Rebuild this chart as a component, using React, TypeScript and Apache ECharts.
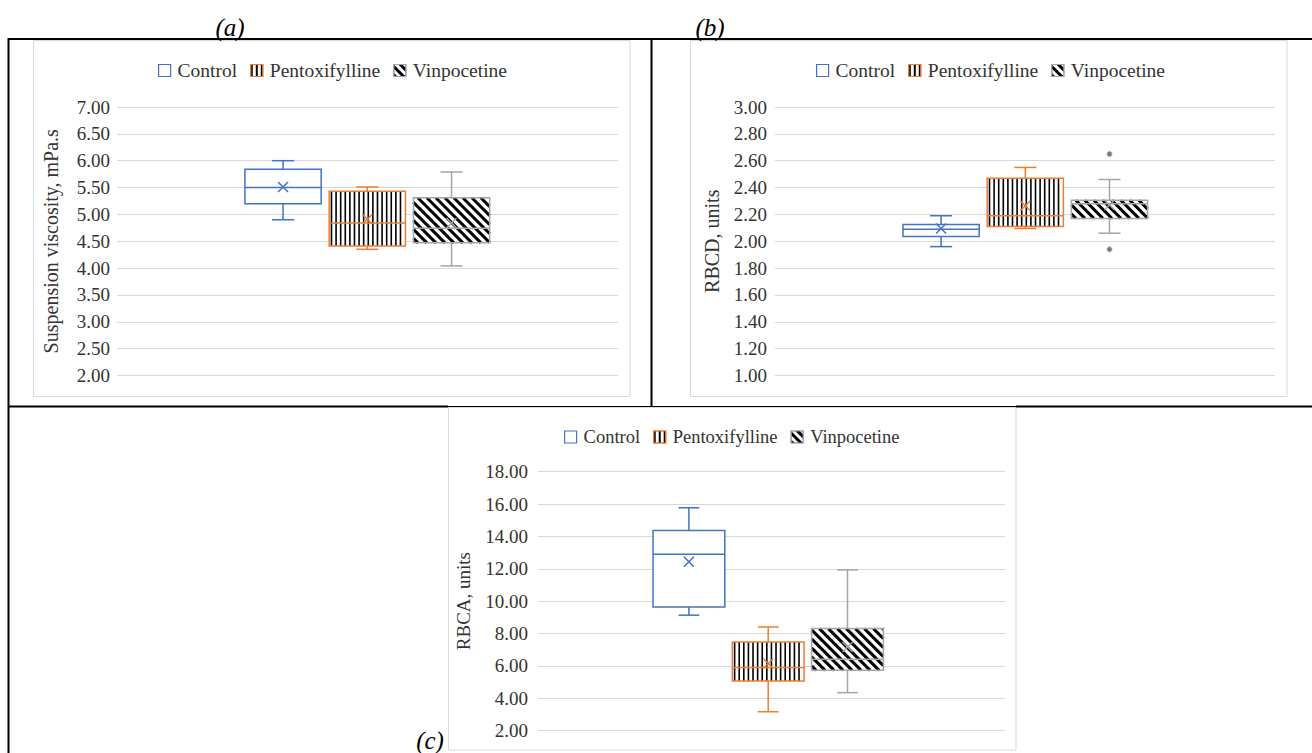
import { useEffect, useRef } from 'react';
import * as echarts from 'echarts';

// ---------- data ----------
const groups = ['Control', 'Pentoxifylline', 'Vinpocetine'];
const groupColors = ['#4472C4', '#ED7D31', '#A5A5A5'];
const groupPatterns = ['none', 'vertical', 'diagonal'];

// box statistics per group: [min, Q1, median, Q3, max, mean]
const viscosityStats = [
  [4.9, 5.2, 5.5, 5.84, 6.0, 5.51],
  [4.35, 4.41, 4.84, 5.43, 5.51, 4.91],
  [4.04, 4.47, 4.74, 5.31, 5.79, 4.84],
];
const rbcdStats = [
  [1.96, 2.035, 2.09, 2.125, 2.19, 2.095],
  [2.095, 2.11, 2.19, 2.47, 2.55, 2.265],
  [2.06, 2.17, 2.28, 2.305, 2.46, 2.27],
];
// [group index, value]
const rbcdOutliers = [
  [2, 2.65],
  [2, 1.94],
];
const rbcaStats = [
  [9.13, 9.64, 12.89, 14.37, 15.77, 12.43],
  [3.16, 5.06, 5.89, 7.47, 8.4, 6.14],
  [4.34, 5.72, 6.4, 8.3, 11.93, 7.16],
];

// y axis: [min, max, interval]
const viscosityAxis = [2, 7, 0.5];
const rbcdAxis = [1, 3, 0.2];
const rbcaAxis = [2, 18, 2];

const panelLabels = ['(a)', '(b)', '(c)'];
const axisTitles = ['Suspension viscosity, mPa.s', 'RBCD, units', 'RBCA, units'];

// ---------- layout / style ----------
const FONT = 'Liberation Serif, Times New Roman, serif';
const TEXT = '#333333';
const GRID_LINE = '#D9D9D9';
const BOX_RATIO = 0.905;
const CAP_RATIO = 0.29;
const VSTEP = 4.6;
const DSTEP = 9;

const layouts = [
  { left: 117, top: 107, width: 501, height: 268.5, mid: 367.3, step: 84.25, labelMargin: 7, nameGap: 56, nameSize: 20, legendSize: 19.5, legendLeft: 158, legendTop: 60.5 },
  { left: 775, top: 107, width: 500, height: 268.5, mid: 1025.3, step: 84.2, labelMargin: 8, nameGap: 53, nameSize: 20, legendSize: 19.5, legendLeft: 816, legendTop: 60.5 },
  { left: 538, top: 471.7, width: 467, height: 258.8, mid: 768.2, step: 79.3, labelMargin: 10, nameGap: 65, nameSize: 19, legendSize: 18.5, legendLeft: 564, legendTop: 427.5 },
];

const legendDecals: any[] = [
  null,
  { symbol: 'rect', symbolSize: 1, dashArrayX: [1.5, 2.5], dashArrayY: [1, 0], color: '#000', backgroundColor: '#fff' },
  { symbol: 'rect', symbolSize: 1, dashArrayX: [1, 0], dashArrayY: [3, 3], rotation: Math.PI / 4, color: '#000', backgroundColor: '#fff' },
];

function seg(x1: number, y1: number, x2: number, y2: number, style: any) {
  return { type: 'line', shape: { x1, y1, x2, y2 }, style: { fill: 'none', ...style } };
}

function renderBox(pattern: string, color: string) {
  return (_params: any, api: any) => {
    const g = api.value(0);
    const [mn, q1, md, q3, mx, mean] = [1, 2, 3, 4, 5, 6].map((d) => api.value(d));
    const pMed = api.coord([g, md]);
    const step = api.coord([g + 1, md])[0] - pMed[0];
    const cx = pMed[0];
    const bw = step * BOX_RATIO;
    const x0 = cx - bw / 2;
    const x1 = cx + bw / 2;
    const y = (v: number) => api.coord([g, v])[1];
    const yQ3 = y(q3);
    const yQ1 = y(q1);
    const yMax = y(mx);
    const yMin = y(mn);
    const yMean = y(mean);
    const yMed = pMed[1];
    const st = { stroke: color, lineWidth: 1.5 };
    const capHalf = (bw * CAP_RATIO) / 2;
    const children: any[] = [
      seg(cx, yMax, cx, yQ3, st),
      seg(cx, yQ1, cx, yMin, st),
      seg(cx - capHalf, yMax, cx + capHalf, yMax, st),
      seg(cx - capHalf, yMin, cx + capHalf, yMin, st),
      { type: 'rect', shape: { x: x0, y: yQ3, width: bw, height: yQ1 - yQ3 }, style: { fill: '#fff', stroke: 'none' } },
    ];
    if (pattern === 'vertical') {
      for (let x = x0 + VSTEP / 2; x < x1 - 0.5; x += VSTEP) {
        children.push(seg(x, yQ3, x, yQ1, { stroke: '#000', lineWidth: 1.6 }));
      }
    } else if (pattern === 'diagonal') {
      const cStart = x0 - yQ1;
      const cEnd = x1 - yQ3;
      for (let c = cStart + DSTEP / 2; c < cEnd; c += DSTEP) {
        const xa = Math.max(x0, yQ3 + c);
        const xb = Math.min(x1, yQ1 + c);
        if (xb > xa) children.push(seg(xa, xa - c, xb, xb - c, { stroke: '#000', lineWidth: 3 }));
      }
    }
    children.push({ type: 'rect', shape: { x: x0, y: yQ3, width: bw, height: yQ1 - yQ3 }, style: { fill: 'none', stroke: color, lineWidth: 1.5 } });
    children.push(seg(x0, yMed, x1, yMed, st));
    const m = 5;
    children.push(seg(cx - m, yMean - m, cx + m, yMean + m, st));
    children.push(seg(cx - m, yMean + m, cx + m, yMean - m, st));
    return { type: 'group', children };
  };
}

export default function App() {
  const ref = useRef<HTMLDivElement>(null);

  useEffect(() => {
    if (!ref.current) return;
    const chart = echarts.init(ref.current, null, { renderer: 'svg' });

    const statsList = [viscosityStats, rbcdStats, rbcaStats];
    const axisList = [viscosityAxis, rbcdAxis, rbcaAxis];

    const grid: any[] = [];
    const xAxis: any[] = [];
    const yAxis: any[] = [];
    const series: any[] = [];
    const legend: any[] = [];

    layouts.forEach((L, p) => {
      grid.push({ left: L.left, top: L.top, width: L.width, height: L.height, containLabel: false, outerBoundsMode: 'none' });
      const xMin = 1 - (L.mid - L.left) / L.step;
      xAxis.push({ gridIndex: p, type: 'value', min: xMin, max: xMin + L.width / L.step, show: false });
      const [min, max, interval] = axisList[p];
      yAxis.push({
        gridIndex: p,
        type: 'value',
        min,
        max,
        interval,
        axisLine: { show: false },
        axisTick: { show: false },
        axisLabel: {
          formatter: (v: number) => v.toFixed(2),
          fontSize: 19,
          fontFamily: FONT,
          color: TEXT,
          margin: L.labelMargin,
        },
        splitLine: { lineStyle: { color: GRID_LINE, width: 1 } },
        name: axisTitles[p],
        nameLocation: 'middle',
        nameGap: L.nameGap,
        nameRotate: 90,
        nameTextStyle: { fontSize: L.nameSize, fontFamily: FONT, color: TEXT },
      });
      groups.forEach((name, g) => {
        series.push({
          type: 'custom',
          name,
          xAxisIndex: p,
          yAxisIndex: p,
          data: [[g, ...statsList[p][g]]],
          encode: { x: 0, y: [1, 2, 3, 4, 5, 6] },
          renderItem: renderBox(groupPatterns[g], groupColors[g]),
          itemStyle: { color: '#fff', borderColor: groupColors[g] },
          silent: true,
          z: 2,
        });
      });
      legend.push({
        left: L.legendLeft,
        top: L.legendTop,
        padding: 0,
        orient: 'horizontal',
        icon: 'rect',
        itemWidth: 12,
        itemHeight: 12,
        itemGap: 13,
        selectedMode: false,
        textStyle: { fontSize: L.legendSize, fontFamily: FONT, color: TEXT, padding: [0, 0, 0, 2] },
        data: groups.map((name, g) => ({
          name,
          itemStyle: {
            color: '#fff',
            borderColor: groupColors[g],
            borderWidth: 1.2,
            decal: legendDecals[g] || 'none',
          },
        })),
      });
    });

    series.push({
      type: 'scatter',
      name: 'Vinpocetine outliers',
      xAxisIndex: 1,
      yAxisIndex: 1,
      data: rbcdOutliers,
      symbol: 'circle',
      symbolSize: 5,
      itemStyle: { color: '#595959', borderColor: '#A5A5A5', borderWidth: 1 },
      silent: true,
      z: 3,
    });

    const frame = { fill: 'none', stroke: GRID_LINE, lineWidth: 1 };
    const rule = (w: number) => ({ stroke: '#000', lineWidth: w });
    const labelStyle = (text: string) => ({
      text,
      fontSize: 25,
      fontStyle: 'italic',
      fontFamily: FONT,
      fill: '#000',
      align: 'center',
      verticalAlign: 'middle',
      textAlign: 'center',
      textVerticalAlign: 'middle',
    });

    const graphic: any[] = [
      { type: 'rect', shape: { x: 33.5, y: 40.5, width: 596.5, height: 356 }, style: frame, z: -1 },
      { type: 'rect', shape: { x: 690.5, y: 40.5, width: 596.5, height: 356 }, style: frame, z: -1 },
      { type: 'rect', shape: { x: 448.5, y: 407.5, width: 567.5, height: 342.5 }, style: frame, z: -1 },
      { type: 'line', shape: { x1: 8, y1: 39, x2: 1312, y2: 39 }, style: rule(2) },
      { type: 'line', shape: { x1: 8.5, y1: 38, x2: 8.5, y2: 753 }, style: rule(2) },
      { type: 'line', shape: { x1: 651.5, y1: 39, x2: 651.5, y2: 407 }, style: rule(2) },
      { type: 'line', shape: { x1: 8, y1: 406.5, x2: 448, y2: 406.5 }, style: rule(2) },
      { type: 'line', shape: { x1: 448, y1: 406.5, x2: 1016, y2: 406.5 }, style: rule(1) },
      { type: 'line', shape: { x1: 1016, y1: 406.5, x2: 1312, y2: 406.5 }, style: rule(2) },
      { type: 'text', x: 230, y: 27, style: labelStyle(panelLabels[0]) },
      { type: 'text', x: 710, y: 27, style: labelStyle(panelLabels[1]) },
      { type: 'text', x: 430, y: 740, style: labelStyle(panelLabels[2]) },
    ];

    chart.setOption({
      animation: false,
      backgroundColor: '#fff',
      textStyle: { fontFamily: FONT },
      grid,
      xAxis,
      yAxis,
      legend,
      series,
      graphic,
    });

    return () => chart.dispose();
  }, []);

  return (
    <div
      ref={ref}
      style={{ position: 'absolute', left: 0, top: 0, width: 1312, height: 753, background: '#fff' }}
    />
  );
}
